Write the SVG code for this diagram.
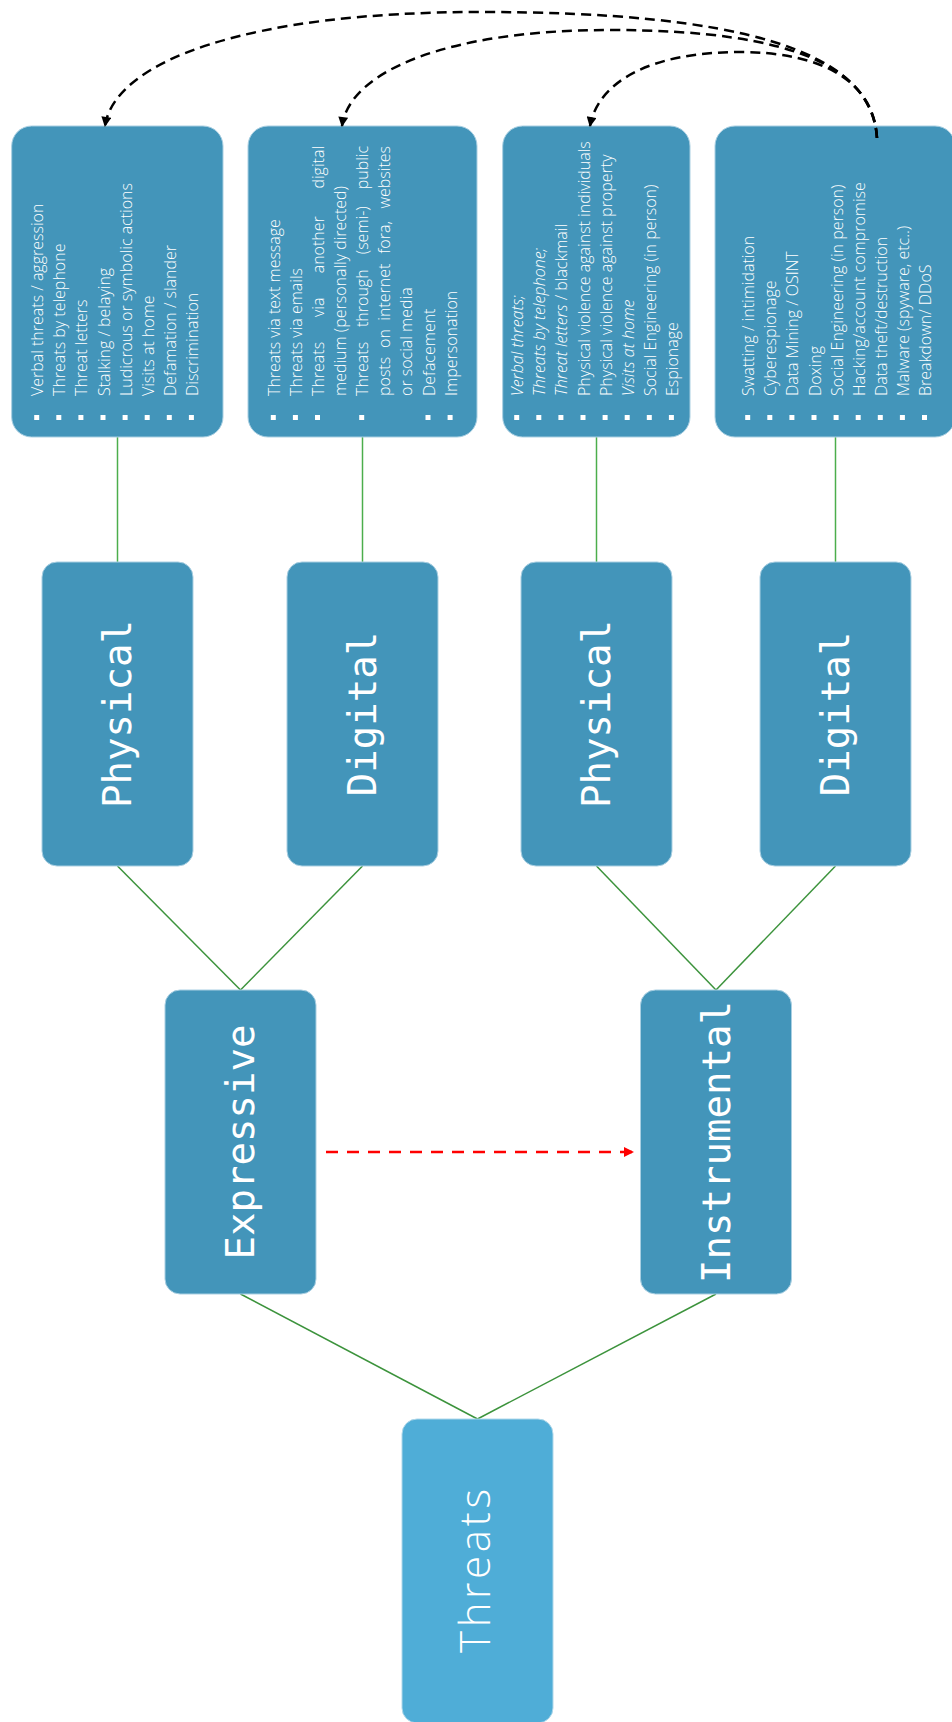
<svg xmlns="http://www.w3.org/2000/svg" width="952" height="1722" viewBox="0 0 952 1722">
<defs>
<marker id="arrowBlack" viewBox="0 0 10 10" refX="9" refY="5" markerWidth="11" markerHeight="10" orient="auto" markerUnits="userSpaceOnUse"><path d="M0,0 L10,5 L0,10 z" fill="#000"/></marker>
<marker id="arrowRed" viewBox="0 0 10 10" refX="9" refY="5" markerWidth="11" markerHeight="10" orient="auto" markerUnits="userSpaceOnUse"><path d="M0,0 L10,5 L0,10 z" fill="#ff0000"/></marker>
<style>
.box { fill:#4395ba; stroke:#a9cfe2; stroke-width:1; }
.root { fill:#4fadd7; stroke:#b0d8ea; stroke-width:1; }
.list { font-family:"Open Sans","Noto Sans","DejaVu Sans",sans-serif; font-size:16px; font-weight:300; fill:#ffffff; }
.it { font-style:italic; }
.end { text-anchor:end; }
.lbl { font-family:"DejaVu Sans Mono","Liberation Mono",monospace; font-size:39px; fill:#ffffff; text-anchor:middle; }
.root-lbl { font-family:"Open Sans","Noto Sans",sans-serif; font-size:42px; font-weight:300; fill:#ffffff; text-anchor:middle; }
.bul { fill:#ffffff; }
.gv { stroke:#4cae4c; stroke-width:1.5; fill:none; }
.gd { stroke:#3c933c; stroke-width:1.5; fill:none; }
.arc { stroke:#000000; stroke-width:2.5; stroke-dasharray:10 6; fill:none; marker-end:url(#arrowBlack); }
.red { stroke:#ff0000; stroke-width:2.5; stroke-dasharray:12 9; fill:none; marker-end:url(#arrowRed); }
</style>
</defs>

<g id="connectors">
<path class="gv" d="M117.5 437 V562"/>
<path class="gv" d="M362.5 437 V562"/>
<path class="gv" d="M596.5 437 V562"/>
<path class="gv" d="M835.5 437 V562"/>
<path class="gd" d="M117.5 866 L240.5 990"/>
<path class="gd" d="M362.5 866 L240.5 990"/>
<path class="gd" d="M596.5 866 L716 990"/>
<path class="gd" d="M835.5 866 L716 990"/>
<path class="gd" d="M240.5 1294 L477.5 1419"/>
<path class="gd" d="M716 1294 L477.5 1419"/>
<path class="red" d="M326 1152 H633"/>
</g>

<g id="node-expressive-physical-list">
<rect class="box" x="11.7" y="126" width="211.3" height="311" rx="20"/>
<g transform="translate(0,396) rotate(-90)" class="list">
<text x="0" y="43.2">Verbal threats / aggression</text>
<text x="0" y="65.3">Threats by telephone</text>
<text x="0" y="87.4">Threat letters</text>
<text x="0" y="109.5">Stalking / belaying</text>
<text x="0" y="131.6">Ludicrous or symbolic actions</text>
<text x="0" y="153.7">Visits at home</text>
<text x="0" y="175.8">Defamation / slander</text>
<text x="0" y="197.9">Discrimination</text>
</g>
<rect class="bul" x="34.2" y="415" width="5" height="5"/>
<rect class="bul" x="56.3" y="415" width="5" height="5"/>
<rect class="bul" x="78.4" y="415" width="5" height="5"/>
<rect class="bul" x="100.5" y="415" width="5" height="5"/>
<rect class="bul" x="122.6" y="415" width="5" height="5"/>
<rect class="bul" x="144.7" y="415" width="5" height="5"/>
<rect class="bul" x="166.8" y="415" width="5" height="5"/>
<rect class="bul" x="188.9" y="415" width="5" height="5"/>
</g>

<g id="node-expressive-digital-list">
<rect class="box" x="248" y="126" width="229" height="311" rx="20"/>
<g transform="translate(0,396) rotate(-90)" class="list">
<text x="0" y="279.8">Threats via text message</text>
<text x="0" y="301.9">Threats via emails</text>
<text y="324"><tspan x="0">Threats</tspan><tspan x="79">via</tspan><tspan x="122.7">another</tspan></text>
<text class="end" x="250" y="324">digital</text>
<text x="0" y="346.1">medium (personally directed)</text>
<text y="368.2"><tspan x="0">Threats</tspan><tspan x="69">through</tspan><tspan x="141.8">(semi-)</tspan></text>
<text class="end" x="250" y="368.2">public</text>
<text y="390.3"><tspan x="0">posts</tspan><tspan x="48">on</tspan><tspan x="75.3">internet</tspan><tspan x="142.5">fora,</tspan></text>
<text class="end" x="250" y="390.3">websites</text>
<text x="0" y="412.4">or social media</text>
<text x="0" y="434.5">Defacement</text>
<text x="0" y="456.6">Impersonation</text>
</g>
<rect class="bul" x="270.8" y="415" width="5" height="5"/>
<rect class="bul" x="292.9" y="415" width="5" height="5"/>
<rect class="bul" x="315" y="415" width="5" height="5"/>
<rect class="bul" x="359.2" y="415" width="5" height="5"/>
<rect class="bul" x="425.5" y="415" width="5" height="5"/>
<rect class="bul" x="447.6" y="415" width="5" height="5"/>
</g>

<g id="node-instrumental-physical-list">
<rect class="box" x="502.7" y="126" width="187.3" height="311" rx="20"/>
<g transform="translate(0,396) rotate(-90)" class="list">
<text class="it" x="0" y="523.2">Verbal threats;</text>
<text class="it" x="0" y="545.3">Threats by telephone;</text>
<text x="0" y="567.4"><tspan class="it">Threat letters</tspan> / blackmail</text>
<text x="0" y="589.5">Physical violence against individuals</text>
<text x="0" y="611.6">Physical violence against property</text>
<text class="it" x="0" y="633.7">Visits at home</text>
<text x="0" y="655.8">Social Engineering (in person)</text>
<text x="0" y="677.9">Espionage</text>
</g>
<rect class="bul" x="514.2" y="415" width="5" height="5"/>
<rect class="bul" x="536.3" y="415" width="5" height="5"/>
<rect class="bul" x="558.4" y="415" width="5" height="5"/>
<rect class="bul" x="580.5" y="415" width="5" height="5"/>
<rect class="bul" x="602.6" y="415" width="5" height="5"/>
<rect class="bul" x="624.7" y="415" width="5" height="5"/>
<rect class="bul" x="646.8" y="415" width="5" height="5"/>
<rect class="bul" x="668.9" y="415" width="5" height="5"/>
</g>

<g id="node-instrumental-digital-list">
<rect class="box" x="715" y="126" width="240" height="311" rx="20"/>
<g transform="translate(0,396) rotate(-90)" class="list">
<text x="0" y="754.2">Swatting / intimidation</text>
<text x="0" y="776.3">Cyberespionage</text>
<text x="0" y="798.4">Data Mining / OSINT</text>
<text x="0" y="820.5">Doxing</text>
<text x="0" y="842.6">Social Engineering (in person)</text>
<text x="0" y="864.7">Hacking/account compromise</text>
<text x="0" y="886.8">Data theft/destruction</text>
<text x="0" y="908.9">Malware (spyware, etc..)</text>
<text x="0" y="931">Breakdown/ DDoS</text>
</g>
<rect class="bul" x="745.2" y="415" width="5" height="5"/>
<rect class="bul" x="767.3" y="415" width="5" height="5"/>
<rect class="bul" x="789.4" y="415" width="5" height="5"/>
<rect class="bul" x="811.5" y="415" width="5" height="5"/>
<rect class="bul" x="833.6" y="415" width="5" height="5"/>
<rect class="bul" x="855.7" y="415" width="5" height="5"/>
<rect class="bul" x="877.8" y="415" width="5" height="5"/>
<rect class="bul" x="899.9" y="415" width="5" height="5"/>
<rect class="bul" x="922" y="415" width="5" height="5"/>
</g>

<g id="feedback-arcs">
<path class="arc" d="M877 138 C872 50, 740 12, 480 12 C250 12, 115 60, 105 126"/>
<path class="arc" d="M877 138 C872 70, 800 30, 610 30 C450 30, 350 70, 342 126"/>
<path class="arc" d="M877 138 C874 80, 820 52, 740 52 C650 52, 598 82, 590 126"/>
</g>

<g id="node-physical-1">
<rect class="box" x="42" y="562" width="151" height="304" rx="15"/>
<text class="lbl" transform="translate(131,714) rotate(-90)">Physical</text>
</g>
<g id="node-digital-1">
<rect class="box" x="287" y="562" width="151" height="304" rx="15"/>
<text class="lbl" transform="translate(376,714) rotate(-90)">Digital</text>
</g>
<g id="node-physical-2">
<rect class="box" x="521" y="562" width="151" height="304" rx="15"/>
<text class="lbl" transform="translate(610,714) rotate(-90)">Physical</text>
</g>
<g id="node-digital-2">
<rect class="box" x="760" y="562" width="151" height="304" rx="15"/>
<text class="lbl" transform="translate(849,714) rotate(-90)">Digital</text>
</g>
<g id="node-expressive">
<rect class="box" x="165" y="990" width="151" height="304" rx="15"/>
<text class="lbl" transform="translate(254,1142) rotate(-90)">Expressive</text>
</g>
<g id="node-instrumental">
<rect class="box" x="640.5" y="990" width="151" height="304" rx="15"/>
<text class="lbl" transform="translate(729.5,1142) rotate(-90)">Instrumental</text>
</g>
<g id="node-threats">
<rect class="root" x="402" y="1419" width="151" height="304" rx="15"/>
<text class="root-lbl" transform="translate(490,1571) rotate(-90)" textLength="164" lengthAdjust="spacing">Threats</text>
</g>
</svg>
